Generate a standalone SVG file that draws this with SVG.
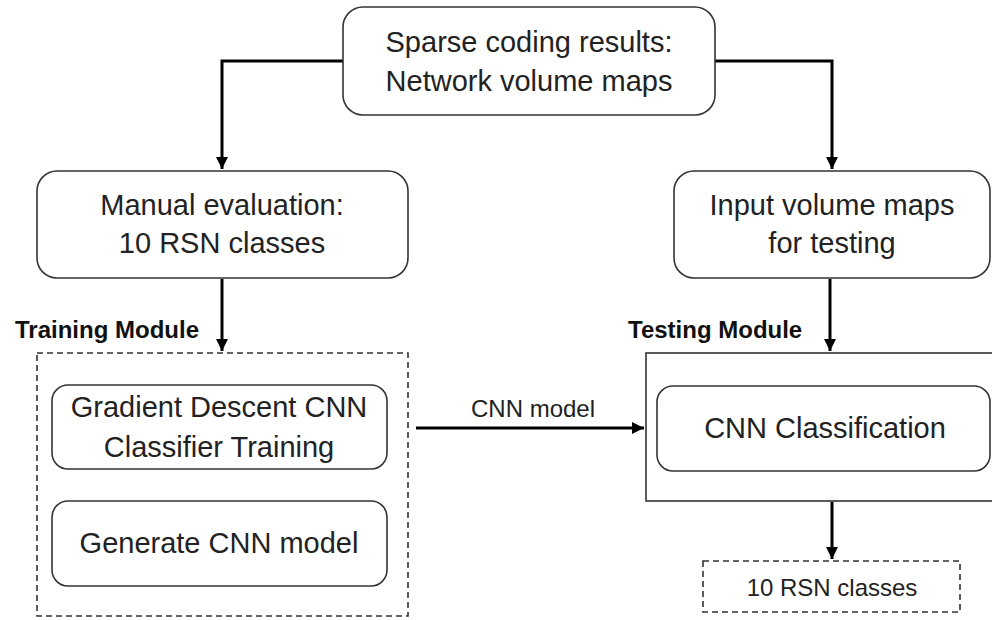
<svg xmlns="http://www.w3.org/2000/svg" width="992" height="620" viewBox="0 0 992 620">
<defs>
<marker id="ah" viewBox="0 0 10 10" refX="10" refY="5" markerWidth="4" markerHeight="4" orient="auto" markerUnits="strokeWidth">
<path d="M0,0 L10,5 L0,10 z" fill="#000"/>
</marker>
</defs>
<style>
.box{fill:#fff;stroke:#333;stroke-width:1.6}
.dash{fill:none;stroke:#333;stroke-width:1.6;stroke-dasharray:6,4}
.t{font-family:"Liberation Sans",Arial,sans-serif;font-size:29px;fill:#222;text-anchor:middle}
.s{font-family:"Liberation Sans",Arial,sans-serif;font-size:24px;fill:#222;text-anchor:middle}
.b{font-family:"Liberation Sans",Arial,sans-serif;font-size:24px;font-weight:bold;fill:#111}
.c{fill:none;stroke:#000;stroke-width:3}
</style>
<rect width="992" height="620" fill="#fff"/>
<g id="connectors">
<path class="c" d="M343,61 H222 V169" marker-end="url(#ah)"/>
<path class="c" d="M715,61 H832 V169" marker-end="url(#ah)"/>
<path class="c" d="M222,279 V351" marker-end="url(#ah)"/>
<path class="c" d="M830,279 V351" marker-end="url(#ah)"/>
<path class="c" d="M416,428 H644" marker-end="url(#ah)"/>
<path class="c" d="M832,502 V559" marker-end="url(#ah)"/>
<text class="s" x="533" y="417" font-size="25">CNN model</text>
</g>
<g id="sparse">
<rect class="box" x="343" y="7" width="372" height="108" rx="20"/>
<text class="t" x="529" y="52">Sparse coding results:</text>
<text class="t" x="529" y="91">Network volume maps</text>
</g>
<g id="manual">
<rect class="box" x="37" y="171" width="371" height="107" rx="20"/>
<text class="t" x="222" y="215">Manual evaluation:</text>
<text class="t" x="222" y="253">10 RSN classes</text>
</g>
<g id="input">
<rect class="box" x="674" y="171" width="316" height="107" rx="20"/>
<text class="t" x="832" y="215">Input volume maps</text>
<text class="t" x="832" y="253">for testing</text>
</g>
<g id="training">
<text class="b" x="15" y="338">Training Module</text>
<rect class="dash" x="37" y="353" width="371" height="263"/>
</g>
<g id="gradient">
<rect class="box" x="52" y="385" width="335" height="84" rx="16"/>
<text class="t" x="219" y="417">Gradient Descent CNN</text>
<text class="t" x="219" y="457">Classifier Training</text>
</g>
<g id="generate">
<rect class="box" x="52" y="501" width="335" height="85" rx="16"/>
<text class="t" x="219" y="553">Generate CNN model</text>
</g>
<g id="testing">
<text class="b" x="628" y="338">Testing Module</text>
<rect class="box" x="646" y="353" width="360" height="148"/>
</g>
<g id="classification">
<rect class="box" x="657" y="386" width="333" height="85" rx="16"/>
<text class="t" x="825" y="438">CNN Classification</text>
</g>
<g id="output">
<rect class="dash" x="703" y="561" width="257" height="51"/>
<text class="s" x="832" y="596">10 RSN classes</text>
</g>
</svg>
